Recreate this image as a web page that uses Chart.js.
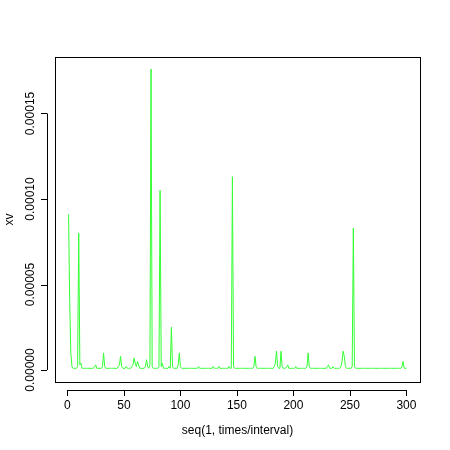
<!DOCTYPE html>
<html><head><script src="https://cdn.jsdelivr.net/npm/chart.js@4"></script>
<style>body{margin:0;background:#fff}#w{width:450px;height:450px}</style></head>
<body><div id="w"><canvas id="c"></canvas></div>
<script>
const xTicks=[0,50,100,150,200,250,300];
const yTicks=[0,0.00005,0.0001,0.00015];
const yTickLabels=["0.00000","0.00005","0.00010","0.00015"];
const valuesMicro=[
91,40,10,2,1,1,1,1,2,80,
3,4,1,1,1,1,1,1,1,1,
1,1,1,2,3,1,1,1,1,1,
2,10,2,1,1,1,1,1,1,1,
1,1,1,1,2,3,8,2,1,1,
1,2,1,1,1,1,2,3,7,4,
2,5,3,1,1,1,1,1,2,6,
2,1,3,176,2,1,1,1,1,1,
2,105,2,4,1,1,1,1,1,2,
1,25,2,1,1,1,1,3,10,2,
1,1,1,1,1,1,1,1,1,1,
1,1,1,1,1,2,1,1,1,1,
1,1,1,1,1,1,1,1,2,1,
1,1,1,2,1,1,1,1,1,1,
1,1,2,1,1,113,2,1,1,1,
1,1,1,1,1,1,1,1,1,1,
1,1,1,1,2,8,2,1,1,1,
1,1,1,1,1,1,1,1,1,1,
1,1,2,4,11,2,1,1,11,2,
1,1,1,2,3,1,1,1,1,1,
1,2,1,1,1,1,1,1,1,1,
1,2,10,2,1,1,1,1,1,1,
1,1,1,1,1,1,1,1,1,2,
3,1,1,1,2,1,1,1,1,1,
1,2,5,11,8,2,1,1,1,1,
1,2,83,2,1,1,1,1,1,1,
1,1,1,1,1,1,1,1,1,1,
1,1,1,1,1,1,1,1,1,1,
1,1,1,1,1,1,1,1,1,1,
1,1,1,1,1,2,5,1,1,1];
const pts=valuesMicro.map((v,i)=>({x:i+1,y:v*1e-6}));
const axes={id:'axes',afterDraw(ch){
 const c=ch.ctx,a=ch.chartArea,xs=ch.scales.x,ys=ch.scales.y;
 c.save();c.strokeStyle='#000';c.lineWidth=1;c.fillStyle='#000';
 c.strokeRect(a.left+0.5,a.top+0.5,a.right-a.left,a.bottom-a.top);
 c.font='12px "Liberation Sans", Arial';
 const by=a.bottom+8;
 c.beginPath();c.moveTo(xs.getPixelForValue(0),by+0.5);c.lineTo(xs.getPixelForValue(300),by+0.5);
 xTicks.forEach(t=>{const p=Math.round(xs.getPixelForValue(t))+0.5;c.moveTo(p,by);c.lineTo(p,by+6);});
 c.stroke();
 c.textAlign='center';c.textBaseline='top';
 xTicks.forEach(t=>c.fillText(String(t),xs.getPixelForValue(t),by+10));
 const lx=a.left-8;
 c.beginPath();c.moveTo(lx+0.5,ys.getPixelForValue(0));c.lineTo(lx+0.5,ys.getPixelForValue(0.00015));
 yTicks.forEach(t=>{const p=Math.round(ys.getPixelForValue(t))+0.5;c.moveTo(lx,p);c.lineTo(lx-6,p);});
 c.stroke();
 yTicks.forEach((t,i)=>{c.save();c.translate(lx-10,ys.getPixelForValue(t));c.rotate(-Math.PI/2);c.textAlign='center';c.textBaseline='bottom';c.fillText(yTickLabels[i],0,0);c.restore();});
 c.textAlign='center';c.textBaseline='middle';
 c.fillText('seq(1, times/interval)',(a.left+a.right)/2,431);
 c.save();c.translate(10,(a.top+a.bottom)/2);c.rotate(-Math.PI/2);c.fillText('xv',0,0);c.restore();
 c.restore();}};
new Chart(document.getElementById('c'),{type:'line',
 data:{datasets:[{data:pts,borderColor:'#33ff33',borderWidth:1,pointRadius:0,tension:0,fill:false}]},
 options:{responsive:true,maintainAspectRatio:false,animation:false,
  layout:{padding:{left:55,right:30,top:57,bottom:68}},
  plugins:{legend:{display:false},tooltip:{enabled:false}},
  scales:{x:{type:'linear',min:-11,max:312,display:false},y:{min:-7e-6,max:183e-6,display:false}}},
 plugins:[axes]});
</script></body></html>
